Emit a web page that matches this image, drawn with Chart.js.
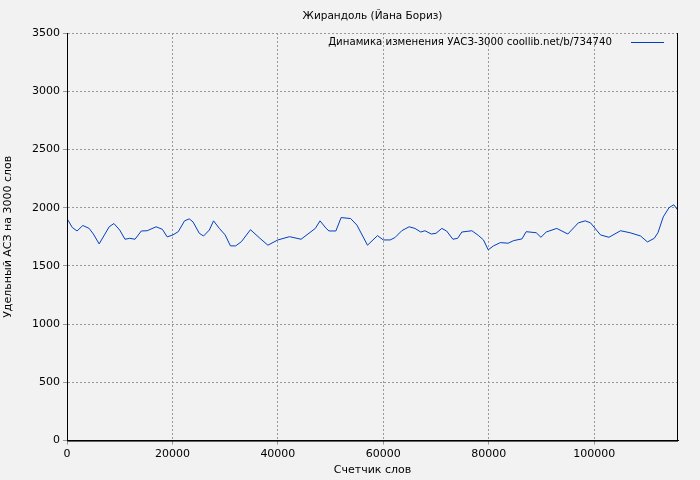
<!DOCTYPE html>
<html>
<head>
<meta charset="utf-8">
<script src="https://cdn.jsdelivr.net/npm/chart.js@4/dist/chart.umd.min.js"></script>
<style>
  body { margin: 0; background: #f2f2f2; }
  #wrap { width: 700px; height: 480px; }
</style>
</head>
<body>
<div id="wrap"><canvas id="chart"></canvas></div>
<script>
const words = [0,1000,1900,3000,4200,5000,6100,7100,8000,8900,10000,11000,11900,12900,14100,15200,16900,18100,19000,20100,21100,22300,23200,23900,25100,25900,27000,27800,28900,30000,31000,32000,33100,34800,36600,38100,40000,42200,44400,47100,48000,49100,49700,51000,52000,53800,55000,57000,
  58900,60000,61300,62200,63500,64900,66000,67100,67900,69100,70000,71100,72000,73200,74100,74900,76800,78000,79000,79900,80900,82200,83700,84700,86300,87100,89000,89900,90900,92900,95000,97000,98300,99300,101200,102800,105000,106800,108800,110100,111400,112100,113100,114200,115100,115900];
const values = [1907,1830,1800,1847,1822,1774,1689,1766,1836,1864,1808,1729,1737,1729,1800,1802,1836,1814,1749,1766,1794,1887,1904,1878,1780,1757,1808,1887,1822,1766,1672,1672,1709,1811,1737,1678,1723,1751,1729,1822,1887,1825,1800,1800,1915,1907,1850,1678,
  1760,1723,1723,1743,1802,1836,1822,1791,1802,1774,1780,1822,1800,1729,1737,1791,1802,1763,1723,1638,1672,1700,1695,1717,1732,1794,1785,1746,1791,1822,1774,1870,1887,1870,1766,1746,1802,1785,1757,1706,1737,1785,1921,2000,2025,1977];
const xTicks = [0, 20000, 40000, 60000, 80000, 100000];
const titleText = "Жирандоль (Йана Бориз)";
const legendLabel = "Динамика изменения УАСЗ-3000 coollib.net/b/734740";

const font = { family: "DejaVu Sans", size: 11 };
Chart.defaults.color = "#000";

const overlay = {
  id: "overlay",
  afterDraw(chart) {
    const { ctx, chartArea } = chart;
    ctx.save();
    ctx.fillStyle = "#000";
    ctx.textBaseline = "middle";
    // title centred over the plot
    ctx.font = "10.5px DejaVu Sans";
    ctx.textAlign = "center";
    ctx.fillText(titleText, (chartArea.left + chartArea.right) / 2, 16);
    // legend
    ctx.font = "10.2px DejaVu Sans";
    ctx.textAlign = "right";
    const y = chartArea.top + 9;
    ctx.fillText(legendLabel, chartArea.right - 66, y);
    ctx.strokeStyle = "#0040c0";
    ctx.lineWidth = 1;
    ctx.beginPath();
    ctx.moveTo(chartArea.right - 47, y + 0.5);
    ctx.lineTo(chartArea.right - 14, y + 0.5);
    ctx.stroke();
    // solid axes
    ctx.strokeStyle = "#000";
    ctx.beginPath();
    ctx.moveTo(chartArea.left + 0.5, chartArea.top);
    ctx.lineTo(chartArea.left + 0.5, chartArea.bottom + 0.5);
    ctx.lineTo(chartArea.right, chartArea.bottom + 0.5);
    ctx.moveTo(chartArea.right - 0.5, chartArea.top);
    ctx.lineTo(chartArea.right - 0.5, chartArea.bottom);
    ctx.stroke();
    ctx.restore();
  }
};

new Chart(document.getElementById("chart"), {
  type: "scatter",
  data: {
    datasets: [{
      data: words.map((w, i) => ({ x: w, y: values[i] })),
      showLine: true,
      borderColor: "#0040c0",
      borderWidth: 1,
      pointRadius: 0,
      tension: 0
    }]
  },
  options: {
    responsive: true,
    maintainAspectRatio: false,
    animation: false,
    layout: { padding: { top: 33, right: 22, left: 0, bottom: 3 } },
    plugins: {
      legend: { display: false },
      tooltip: { enabled: false },
      title: { display: false }
    },
    scales: {
      x: {
        type: "linear", min: 0, max: 115900,
        grid: { color: "#999", tickLength: 4 },
        border: { color: "#000", dash: [2, 2] },
        afterBuildTicks(axis) { axis.ticks = xTicks.map(v => ({ value: v })); },
        ticks: { font: font, maxRotation: 0, callback: v => String(v) },
        title: { display: true, text: "Счетчик слов", font: font, padding: 0 }
      },
      y: {
        min: 0, max: 3500,
        grid: { color: "#999", tickLength: 4 },
        border: { color: "#000", dash: [2, 2] },
        ticks: { stepSize: 500, font: font, callback: v => String(v) },
        title: { display: true, text: "Удельный АСЗ на 3000 слов", font: font, padding: 2 },
        afterFit(axis) { axis.width = 67; }
      }
    }
  },
  plugins: [overlay]
});
</script>
</body>
</html>
